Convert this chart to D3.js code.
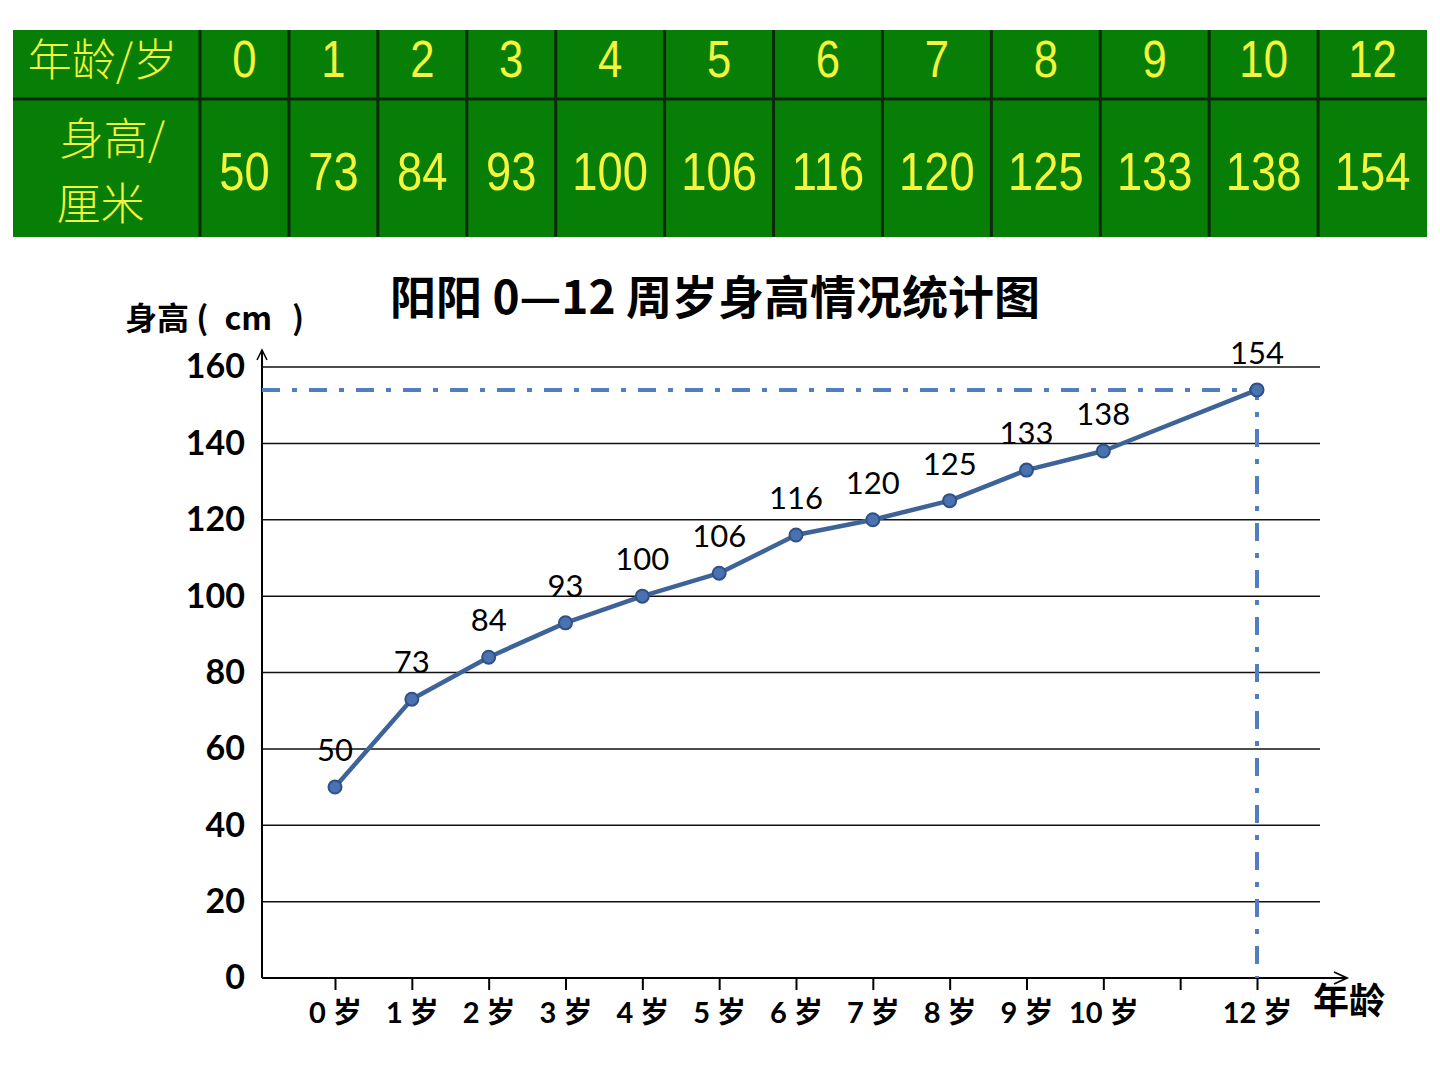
<!DOCTYPE html>
<html>
<head>
<meta charset="utf-8">
<script src="https://cdn.jsdelivr.net/npm/d3@7"></script>
<style>
  html, body { margin: 0; padding: 0; background: #fff; }
  svg { display: block; }
</style>
</head>
<body>
<svg id="chart" width="1440" height="1080"></svg>
<script>
// data
const ages = [0, 1, 2, 3, 4, 5, 6, 7, 8, 9, 10, 12];
const heights = [50, 73, 84, 93, 100, 106, 116, 120, 125, 133, 138, 154];
const yTicks = [0, 20, 40, 60, 80, 100, 120, 140, 160];
const title = "阳阳 0—12 周岁身高情况统计图";

const svg = d3.select("#chart");
const cjk = "'Noto Sans CJK SC', sans-serif";
const latin = "Lato, 'Open Sans', 'Noto Sans CJK SC', sans-serif";
const arial = "'Liberation Sans', Arial, sans-serif";

// ****** table at the top ******
const tbl = svg.append("g");
const tLeft = 13, tRight = 1427, tTop = 30, tMid = 99, tBottom = 237, headW = 187;

// column width grows with the number of digits
let weights = heights.map(h => String(h).length + 2.45);
let total = d3.sum(weights);
let edges = [tLeft + headW];
weights.forEach(w => edges.push(edges[edges.length - 1] + w / total * (tRight - tLeft - headW)));

tbl.append("rect")
  .attr("x", tLeft).attr("y", tTop)
  .attr("width", tRight - tLeft).attr("height", tBottom - tTop)
  .attr("fill", "#077f07");

// grid lines of the table
tbl.append("line")
  .attr("x1", tLeft).attr("x2", tRight)
  .attr("y1", tMid).attr("y2", tMid)
  .attr("stroke", "#0b2a0b").attr("stroke-width", 3);
tbl.selectAll(".vline").data(edges.slice(0, -1)).join("line")
  .attr("class", "vline")
  .attr("x1", d => d).attr("x2", d => d)
  .attr("y1", tTop).attr("y2", tBottom)
  .attr("stroke", "#0b2a0b").attr("stroke-width", 3);

const yellow = "#f4f53c";
tbl.append("text").text("年龄/岁")
  .attr("x", tLeft + headW / 2 - 4).attr("y", 76)
  .attr("text-anchor", "middle").attr("fill", yellow)
  .style("font-family", cjk).style("font-weight", 300).style("font-size", "44px");
tbl.append("text").text("身高/")
  .attr("x", tLeft + headW / 2 + 6).attr("y", 155)
  .attr("text-anchor", "middle").attr("fill", yellow)
  .style("font-family", cjk).style("font-weight", 300).style("font-size", "44px");
tbl.append("text").text("厘米")
  .attr("x", tLeft + headW / 2 - 6).attr("y", 220)
  .attr("text-anchor", "middle").attr("fill", yellow)
  .style("font-family", cjk).style("font-weight", 300).style("font-size", "44px");

// digits in the table are a condensed sans, so squeeze them a bit
tbl.selectAll(".age").data(ages).join("text")
  .attr("class", "age")
  .attr("transform", (d, i) => `translate(${(edges[i] + edges[i + 1]) / 2},77) scale(0.84,1)`)
  .attr("text-anchor", "middle").attr("fill", yellow)
  .style("font-family", arial).style("font-size", "52px")
  .text(d => d);

tbl.selectAll(".hgt").data(heights).join("text")
  .attr("class", "hgt")
  .attr("transform", (d, i) => `translate(${(edges[i] + edges[i + 1]) / 2},190) scale(0.84,1)`)
  .attr("text-anchor", "middle").attr("fill", yellow)
  .style("font-family", arial).style("font-size", "54px")
  .text(d => d);

// ****** line chart ******
const axisX = 262, plotRight = 1320;
const x = d3.scaleLinear().domain([0, 12]).range([335, 1257]);
const y = d3.scaleLinear().domain([0, 160]).range([978, 367]);

svg.append("text").text(title)
  .attr("x", 715).attr("y", 314)
  .attr("text-anchor", "middle")
  .style("font-family", cjk).style("font-weight", 700).style("font-size", "46px");

// y axis title with wide gaps around "cm"
const yTitle = svg.append("text")
  .attr("x", 125).attr("y", 330)
  .style("font-family", cjk).style("font-weight", 700).style("font-size", "32px");
yTitle.append("tspan").text("身高 (");
yTitle.append("tspan").attr("dx", 16).text("cm");
yTitle.append("tspan").attr("dx", 20).text(")");

svg.append("text").text("年龄")
  .attr("x", 1313).attr("y", 1014)
  .style("font-family", cjk).style("font-weight", 700).style("font-size", "36px");

// horizontal grid lines
svg.append("g").selectAll("line").data(yTicks.filter(d => d > 0)).join("line")
  .attr("x1", axisX).attr("x2", plotRight)
  .attr("y1", d => y(d)).attr("y2", d => y(d))
  .attr("stroke", "#111").attr("stroke-width", 1.5);

// y axis
const yAxis = svg.append("g")
  .attr("transform", `translate(${axisX},0)`)
  .call(d3.axisLeft(y).tickValues(yTicks).tickSize(0).tickPadding(17));
yAxis.select(".domain").remove();
yAxis.selectAll("text")
  .style("font-family", latin).style("font-weight", 700).style("font-size", "34px")
  .attr("fill", "#000");
svg.append("line")
  .attr("x1", axisX).attr("x2", axisX)
  .attr("y1", y(0)).attr("y2", 350)
  .attr("stroke", "#000").attr("stroke-width", 2);
svg.append("path")
  .attr("d", `M${axisX - 5},${360} L${axisX},${350} L${axisX + 5},${360}`)
  .attr("fill", "none").attr("stroke", "#000").attr("stroke-width", 1.5);

// x axis
const xAxis = svg.append("g")
  .attr("transform", `translate(0,${y(0)})`)
  .call(d3.axisBottom(x)
    .tickValues(d3.range(13))
    .tickSize(12).tickPadding(12)
    .tickFormat(d => ages.includes(d) ? d + " 岁" : ""));
xAxis.select(".domain").remove();
xAxis.selectAll("line").attr("stroke", "#000").attr("stroke-width", 2);
xAxis.selectAll("text")
  .style("font-family", latin).style("font-weight", 700).style("font-size", "29px")
  .attr("fill", "#000");
svg.append("line")
  .attr("x1", axisX).attr("x2", 1346)
  .attr("y1", y(0)).attr("y2", y(0))
  .attr("stroke", "#000").attr("stroke-width", 2);
svg.append("path")
  .attr("d", `M1334,${y(0) - 6} L1347,${y(0)} L1334,${y(0) + 6}`)
  .attr("fill", "none").attr("stroke", "#000").attr("stroke-width", 1.8);

// dash-dot guide to the last point
const lastAge = ages[ages.length - 1], lastH = heights[heights.length - 1];
svg.append("path")
  .attr("d", `M${axisX},${y(lastH)} L${x(lastAge)},${y(lastH)} L${x(lastAge)},${y(0)}`)
  .attr("fill", "none")
  .attr("stroke", "#4f7fc0").attr("stroke-width", 4)
  .attr("stroke-dasharray", "18 12 5 12");

// data line
const pts = ages.map((a, i) => ({ a: a, h: heights[i] }));
svg.append("path")
  .datum(pts)
  .attr("d", d3.line().x(d => x(d.a)).y(d => y(d.h)))
  .attr("fill", "none")
  .attr("stroke", "#3e6399").attr("stroke-width", 4.5)
  .attr("stroke-linejoin", "round");

svg.append("g").selectAll("circle").data(pts).join("circle")
  .attr("cx", d => x(d.a)).attr("cy", d => y(d.h))
  .attr("r", 6.5)
  .attr("fill", "#4a72b0").attr("stroke", "#2f5185").attr("stroke-width", 2);

svg.append("g").selectAll("text").data(pts).join("text")
  .attr("x", d => x(d.a)).attr("y", d => y(d.h) - 26)
  .attr("text-anchor", "middle")
  .style("font-family", latin).style("font-size", "31px")
  .text(d => d.h);
</script>
</body>
</html>
